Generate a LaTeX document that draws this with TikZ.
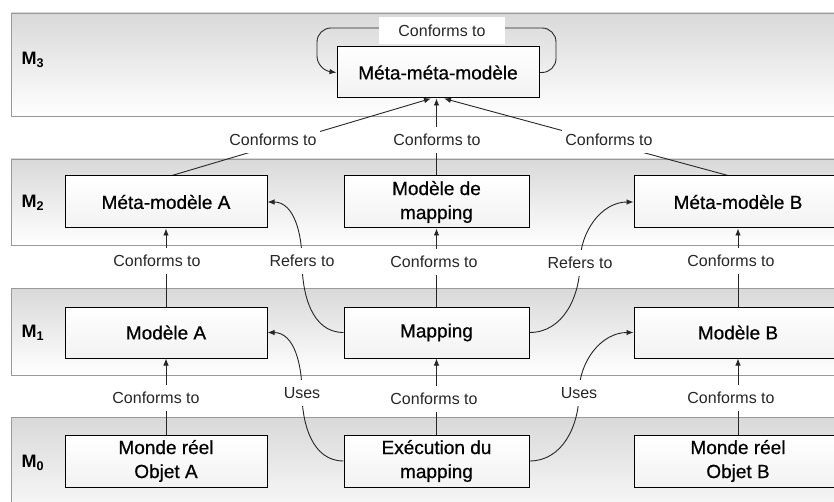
\documentclass[tikz,border=0pt]{standalone}
\usepackage{fontspec}
\setmainfont{Liberation Sans}
\newfontfamily\boxfont[FakeBold=0.6]{Liberation Sans}
\usetikzlibrary{arrows.meta,calc}
\pgfdeclarelayer{back}
\pgfdeclarelayer{wires}
\pgfsetlayers{back,wires,main}
\tikzset{
  band/.style={draw=gray!80, line width=0.8pt, top color=gray!30, bottom color=white},
  box/.style={draw=black, line width=1pt, top color=white, bottom color=gray!10,
    font=\boxfont\fontsize{19}{24}\selectfont, align=center, inner sep=0pt},
  wide/.style={minimum width=202pt},
  mid/.style={minimum width=185pt},
  far/.style={minimum width=208pt},
  lbl/.style={fill=white, font=\fontsize{16}{18}\selectfont, text=black!85,
    inner xsep=3pt, inner ysep=7pt},
  lvl/.style={font=\bfseries\fontsize{18}{20}\selectfont, anchor=west, inner sep=0pt},
  conn/.style={line width=0.9pt, draw=black!85},
  arr/.style={conn, -{Latex[length=7pt,width=5.5pt]}},
}
\begin{document}
\begin{tikzpicture}[x=1pt,y=-1pt]
\useasboundingbox (0,0) rectangle (834,502);
\clip (0,0) rectangle (834,502);

% level bands
\begin{pgfonlayer}{back}
  \draw[band] (11,13)  rectangle (860,116);
  \draw[band] (11,159) rectangle (860,245);
  \draw[band] (11,288) rectangle (860,375);
  \draw[band] (11,417) rectangle (860,530);
\end{pgfonlayer}

% level names
\node[lvl] (l3) at (21.5,60)  {M\textsubscript{3}};
\node[lvl] (l2) at (21.5,203) {M\textsubscript{2}};
\node[lvl] (l1) at (21.5,333) {M\textsubscript{1}};
\node[lvl] (l0) at (21.5,463) {M\textsubscript{0}};

% models
\node[box, wide, minimum height=51pt] (mmm) at (438,72.5) {Méta-méta-modèle};

\node[box, wide, minimum height=52pt] (ma)   at (166,202)   {Méta-modèle A};
\node[box, mid,  minimum height=52pt] (mmap) at (436.5,202) {Modèle de\\mapping};
\node[box, far,  minimum height=52pt] (mb)   at (738,202)   {Méta-modèle B};

\node[box, wide, minimum height=51pt] (moda) at (166,332.5)   {Modèle A};
\node[box, mid,  minimum height=51pt] (map)  at (436.5,332.5) {Mapping};
\node[box, far,  minimum height=51pt] (modb) at (738,332.5)   {Modèle B};

\node[box, wide, minimum height=52pt] (obja) at (166,461)   {Monde réel\\Objet A};
\node[box, mid,  minimum height=52pt] (exec) at (436.5,461) {Exécution du\\mapping};
\node[box, far,  minimum height=52pt] (objb) at (738,461)   {Monde réel\\Objet B};

% relation labels
\node[lbl, inner xsep=19pt, inner ysep=8pt] (self) at (442,30.5) {Conforms to};
\node[lbl] (c3a) at (273,140) {Conforms to};
\node[lbl] (c3m) at (437,140) {Conforms to};
\node[lbl] (c3b) at (609,140) {Conforms to};

\node[lbl] (c2a) at (157,261) {Conforms to};
\node[lbl] (c2m) at (434,262) {Conforms to};
\node[lbl] (c2b) at (731,261) {Conforms to};
\node[lbl] (refl) at (302,261) {Refers to};
\node[lbl] (refr) at (580,263) {Refers to};

\node[lbl] (c1a) at (156,398) {Conforms to};
\node[lbl] (c1m) at (434,399) {Conforms to};
\node[lbl] (c1b) at (731,398) {Conforms to};
\node[lbl] (usel) at (302,393) {Uses};
\node[lbl] (user) at (579,393) {Uses};

\begin{pgfonlayer}{wires}
  % the meta-meta-model conforms to itself
  \draw[arr, rounded corners=14pt] (mmm.east) -- (556,72.5) -- (556,28)
        -- (317,28) -- (317,70) -- (mmm.west);
  % M2 -> M3
  \draw[arr] ($(ma.north)+(6,0)$) -- ($(mmm.south)+(-7,0)$);
  \draw[arr] (mmap.north) -- (mmap.north |- mmm.south);
  \draw[arr] ($(mb.north)+(-10,0)$) -- ($(mmm.south)+(6,0)$);
  % M1 -> M2
  \draw[arr] (moda.south) -- (ma.south);
  \draw[arr] (map.north) -- (mmap.south);
  \draw[arr] (modb.north) -- (mb.south);
  \draw[arr] (map.west) to[out=180,in=-90] (refl.center) to[out=90,in=0] (ma.east);
  \draw[arr] (map.east) to[out=0,in=-90] (refr.center) to[out=90,in=180] (mb.west);
  % M0 -> M1
  \draw[arr] (obja.north) -- (moda.south);
  \draw[arr] (exec.north) -- (map.south);
  \draw[arr] (objb.north) -- (modb.south);
  \draw[arr] (exec.west) to[out=180,in=-90] (usel.center) to[out=90,in=0] (moda.east);
  \draw[arr] (exec.east) to[out=0,in=-90] (user.center) to[out=90,in=180] (modb.west);
\end{pgfonlayer}
\end{tikzpicture}
\end{document}
